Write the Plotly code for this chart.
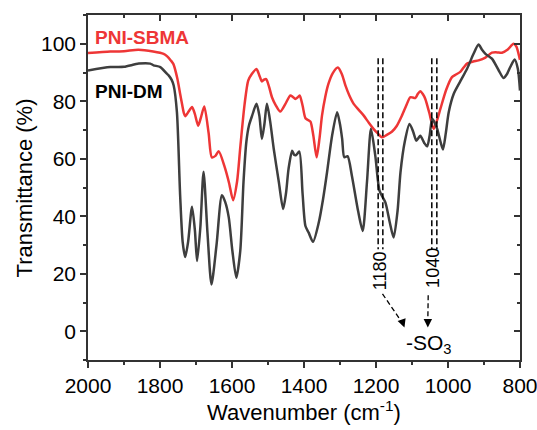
import plotly.graph_objects as go

# ---------------- data ----------------
sbma_wn = [2000, 1938, 1900, 1860, 1819, 1790, 1780, 1770, 1763, 1752, 1744, 1738, 1734, 1730,
           1720, 1711, 1703, 1694, 1686, 1677, 1665, 1656, 1646, 1637, 1620, 1608, 1597,
           1586, 1577, 1565, 1555, 1545, 1532, 1524, 1517, 1511, 1505, 1497, 1489, 1478,
           1466, 1452, 1438, 1431, 1424, 1418, 1412, 1404, 1396, 1389, 1382, 1374, 1365,
           1357, 1350, 1341, 1332, 1320, 1306, 1295, 1285, 1274, 1262, 1248, 1234, 1220,
           1207, 1195, 1183, 1170, 1156, 1142, 1128, 1116, 1105, 1098, 1091, 1084, 1077,
           1070, 1063, 1052, 1040, 1030, 1021, 1005, 989, 978, 966, 956, 947, 930, 915,
           896, 878, 864, 850, 834, 818, 810, 804, 800]
sbma_t = [96.8, 97.3, 97.4, 97.9, 97.3, 96.5, 95.6, 94.2, 93.0, 88.0, 82.5, 78.5, 76.0, 74.8,
          76.5, 78.0, 75.5, 71.5, 74.5, 78.2, 69.0, 60.5, 61.0, 62.6, 57.0, 51.5, 45.6,
          52.0, 64.0, 79.0, 87.2, 89.5, 91.2, 89.0, 86.9, 87.5, 87.7, 85.0, 81.4, 78.5,
          76.4, 79.0, 82.0, 81.5, 80.8, 81.3, 82.0, 78.5, 74.1, 73.5, 72.9, 68.0, 60.5,
          67.0, 75.0, 81.5, 86.1, 89.8, 91.7, 89.5, 85.5, 82.0, 79.1, 77.0, 75.0, 72.5,
          70.4, 68.8, 67.5, 68.3, 69.4, 71.5, 75.0, 78.5, 81.4, 81.3, 81.1, 82.5, 83.5,
          82.5, 80.8, 76.0, 70.4, 73.5, 77.4, 84.0, 88.4, 89.3, 90.2, 91.8, 93.1, 93.8, 94.2,
          95.2, 96.9, 97.0, 96.9, 98.0, 100.0, 99.0, 96.5, 94.4]

dm_wn = [2000, 1938, 1900, 1859, 1827, 1818, 1799, 1781, 1776, 1768, 1762, 1753, 1744, 1737,
         1730, 1722, 1711, 1703, 1697, 1688, 1679, 1668, 1657, 1643, 1628, 1619, 1609,
         1599, 1588, 1577, 1568, 1560, 1553, 1544, 1532, 1524, 1517, 1510, 1503, 1494,
         1484, 1470, 1458, 1450, 1443, 1433, 1427, 1422, 1413, 1404, 1396, 1387, 1375,
         1359, 1347, 1336, 1322, 1308, 1300, 1294, 1288, 1279, 1267, 1250, 1237, 1225,
         1214, 1202, 1190, 1174, 1162, 1151, 1140, 1132, 1120, 1107, 1097, 1088, 1082,
         1077, 1066, 1058, 1051, 1044, 1037, 1030, 1021, 1014, 1006, 998, 984, 966,
         947, 929, 915, 906, 896, 878, 859, 846, 836, 827, 815, 806, 800]
dm_t = [90.7, 91.9, 92.0, 93.1, 93.1, 92.5, 91.9, 89.6, 89.0, 87.5, 85.5, 76.2, 47.1, 31.0,
        25.8, 31.0, 43.3, 35.0, 24.4, 36.0, 55.5, 34.0, 16.3, 30.0, 47.3, 45.0, 39.6,
        28.0, 18.6, 28.0, 52.0, 66.0, 71.5, 75.0, 79.1, 75.0, 66.9, 72.0, 79.1, 73.0,
        63.4, 52.0, 42.5, 48.0, 56.4, 62.8, 61.3, 61.3, 62.5, 48.0, 36.6, 34.3, 31.1,
        37.8, 46.0, 55.3, 68.0, 76.2, 72.0, 66.9, 60.5, 60.9, 54.1, 42.0, 34.9, 52.0,
        70.4, 61.1, 48.8, 44.8, 38.0, 32.6, 42.0, 55.3, 66.0, 72.1, 69.5, 66.3, 67.2,
        68.0, 65.5, 64.3, 68.0, 73.9, 72.5, 70.4, 66.0, 63.2, 69.0, 76.2, 82.6, 86.9,
        91.3, 96.5, 99.7, 98.0, 96.5, 94.8, 90.7, 88.1, 89.5, 91.9, 94.5, 91.3, 83.7]

series_names = ["PNI-SBMA", "PNI-DM"]
peak_labels = ["1180", "1040"]
group_label = "-SO<sub>3</sub>"

RED = "#EE3636"
DARK = "#3E3E3E"
FONT = "Arial, Liberation Sans, sans-serif"

fig = go.Figure()
fig.add_trace(go.Scatter(x=sbma_wn, y=sbma_t, mode="lines", name=series_names[0],
                         line=dict(color=RED, width=2.5, shape="spline", smoothing=0.7),
                         showlegend=False))
fig.add_trace(go.Scatter(x=dm_wn, y=dm_t, mode="lines", name=series_names[1],
                         line=dict(color=DARK, width=2.5, shape="spline", smoothing=0.7),
                         showlegend=False))
# dummy trace so the mirrored (top/right) axes get drawn
fig.add_trace(go.Scatter(x=[None], y=[None], xaxis="x2", yaxis="y2",
                         showlegend=False, hoverinfo="skip"))

# double dashed marker lines
pairs = [(1194, 1181), (1045, 1031)]
for pr in pairs:
    for xv in pr:
        fig.add_shape(type="line", xref="x", yref="y", x0=xv, x1=xv, y0=95, y1=28.5,
                      line=dict(color="black", width=1.5, dash="6px,3px"))

# rotated peak labels
fig.add_annotation(x=1188, y=21, xref="x", yref="y", text=peak_labels[0], textangle=-90,
                   showarrow=False, font=dict(family=FONT, size=18, color="black"))
fig.add_annotation(x=1042, y=22, xref="x", yref="y", text=peak_labels[1], textangle=-90,
                   showarrow=False, font=dict(family=FONT, size=18, color="black"))

# dashed arrows to -SO3
fig.add_shape(type="line", xref="x", yref="y", x0=1182, y0=13, x1=1130, y1=3.5,
              line=dict(color="black", width=1.3, dash="5px,3px"))
fig.add_shape(type="line", xref="x", yref="y", x0=1055, y0=12.5, x1=1056, y1=4,
              line=dict(color="black", width=1.3, dash="5px,3px"))
fig.add_annotation(x=1121, y=1.3, xref="x", yref="y", ax=1128, ay=3.8, axref="x", ayref="y",
                   text="", showarrow=True, arrowhead=2, arrowsize=1.3, arrowwidth=1.3,
                   arrowcolor="black")
fig.add_annotation(x=1056, y=1.3, xref="x", yref="y", ax=1056, ay=4.3, axref="x", ayref="y",
                   text="", showarrow=True, arrowhead=2, arrowsize=1.3, arrowwidth=1.3,
                   arrowcolor="black")

fig.add_annotation(x=1052, y=-4.5, xref="x", yref="y", text=group_label, showarrow=False,
                   xanchor="center", yanchor="middle",
                   font=dict(family=FONT, size=21, color="black"))

# series labels
fig.add_annotation(x=1986, y=102.3, xref="x", yref="y", text="<b>PNI-SBMA</b>", xanchor="left",
                   yanchor="middle", showarrow=False, font=dict(family=FONT, size=19, color=RED))
fig.add_annotation(x=1986, y=83.5, xref="x", yref="y", text="<b>PNI-DM</b>", xanchor="left",
                   yanchor="middle", showarrow=False, font=dict(family=FONT, size=19, color="black"))

# axis titles
fig.add_annotation(x=0.5, y=-0.148, xref="paper", yref="paper", text="Wavenumber (cm<sup>-1</sup>)",
                   xanchor="center", yanchor="middle",
                   showarrow=False, font=dict(family=FONT, size=22, color="black"))
fig.add_annotation(x=-0.146, y=0.5, xref="paper", yref="paper", text="Transmittance (%)",
                   xanchor="center", yanchor="middle",
                   textangle=-90, showarrow=False, font=dict(family=FONT, size=22, color="black"))

axis_common = dict(showgrid=False, zeroline=False, linecolor="#333333", linewidth=1.5,
                   tickcolor="#333333", tickwidth=1.5, ticklabeloverflow="allow",
                   automargin=False,
                   tickfont=dict(family=FONT, size=21, color="black"))

fig.update_layout(
    width=537, height=430,
    margin=dict(l=88, r=17, t=15, b=70, autoexpand=False),
    paper_bgcolor="white", plot_bgcolor="white",
    xaxis=dict(range=[2000, 800], dtick=200, tick0=0, ticks="outside", ticklen=6,
               showline=True, mirror=True,
               minor=dict(ticks="outside", ticklen=3, dtick=100, tickcolor="#333333", tickwidth=1.5),
               **axis_common),
    yaxis=dict(range=[-10, 110], dtick=20, tick0=0, ticks="outside", ticklen=6,
               showline=True, mirror=True,
               minor=dict(ticks="outside", ticklen=3, dtick=10, tickcolor="#333333", tickwidth=1.5),
               **axis_common),
    xaxis2=dict(range=[2000, 800], overlaying="x", side="top", dtick=200, tick0=0,
                ticks="inside", ticklen=6, showticklabels=False, showline=False, automargin=False,
                minor=dict(ticks="inside", ticklen=3, dtick=100, tickcolor="#333333", tickwidth=1.5),
                showgrid=False, zeroline=False, tickcolor="#333333", tickwidth=1.5),
    yaxis2=dict(range=[-10, 110], overlaying="y", side="right", dtick=20, tick0=0,
                ticks="inside", ticklen=6, showticklabels=False, showline=False, automargin=False,
                minor=dict(ticks="inside", ticklen=3, dtick=10, tickcolor="#333333", tickwidth=1.5),
                showgrid=False, zeroline=False, tickcolor="#333333", tickwidth=1.5),
    showlegend=False,
)

fig.write_html("out.html")
